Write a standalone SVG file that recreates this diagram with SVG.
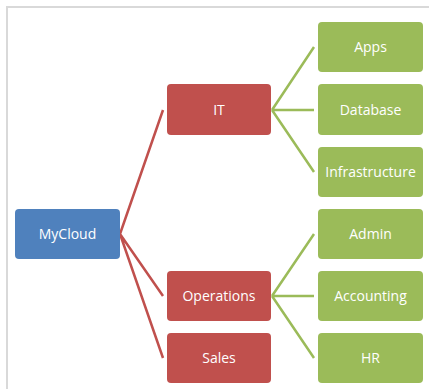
<svg xmlns="http://www.w3.org/2000/svg" width="429" height="389" viewBox="0 0 429 389">
<style>
.frame{fill:none;stroke:#d9d9d9;stroke-width:2}
.root{fill:#4F81BD}
.l1{fill:#C0504D}
.l2{fill:#9BBB59}
.t{font-family:"Open Sans","Liberation Sans",sans-serif;font-size:14px;fill:#ffffff;text-anchor:middle}
.cr{fill:none;stroke:#C0504D;stroke-width:2.5}
.cg{fill:none;stroke:#9BBB59;stroke-width:2.5}
</style>
<rect width="429" height="389" fill="#ffffff"/>
<path class="frame" d="M7,389 V7 H429"/>
<g id="connectors">
<path class="cr" d="M120,234 L163,110 M120,234 L163,296 M120,234 L163,358"/>
<path class="cg" d="M272,110 L314,47 M272,110 L314,110 M272,110 L314,172"/>
<path class="cg" d="M272,296 L314,234 M272,296 L314,296 M272,296 L314,358"/>
</g>
<g id="mycloud"><rect class="root" x="15" y="209" width="105" height="50" rx="4"/><text class="t" x="67.5" y="239">MyCloud</text></g>
<g id="it"><rect class="l1" x="167" y="84" width="104" height="51" rx="4"/><text class="t" x="219" y="115">IT</text></g>
<g id="operations"><rect class="l1" x="167" y="271" width="104" height="50" rx="4"/><text class="t" x="219" y="301">Operations</text></g>
<g id="sales"><rect class="l1" x="167" y="333" width="104" height="50" rx="4"/><text class="t" x="219" y="363">Sales</text></g>
<g id="apps"><rect class="l2" x="318" y="22" width="105" height="50" rx="4"/><text class="t" x="370.5" y="52">Apps</text></g>
<g id="database"><rect class="l2" x="318" y="84" width="105" height="51" rx="4"/><text class="t" x="370.5" y="115">Database</text></g>
<g id="infrastructure"><rect class="l2" x="318" y="147" width="105" height="50" rx="4"/><text class="t" x="370.5" y="177">Infrastructure</text></g>
<g id="admin"><rect class="l2" x="318" y="209" width="105" height="50" rx="4"/><text class="t" x="370.5" y="239">Admin</text></g>
<g id="accounting"><rect class="l2" x="318" y="271" width="105" height="50" rx="4"/><text class="t" x="370.5" y="301">Accounting</text></g>
<g id="hr"><rect class="l2" x="318" y="333" width="105" height="50" rx="4"/><text class="t" x="370.5" y="363">HR</text></g>
</svg>
